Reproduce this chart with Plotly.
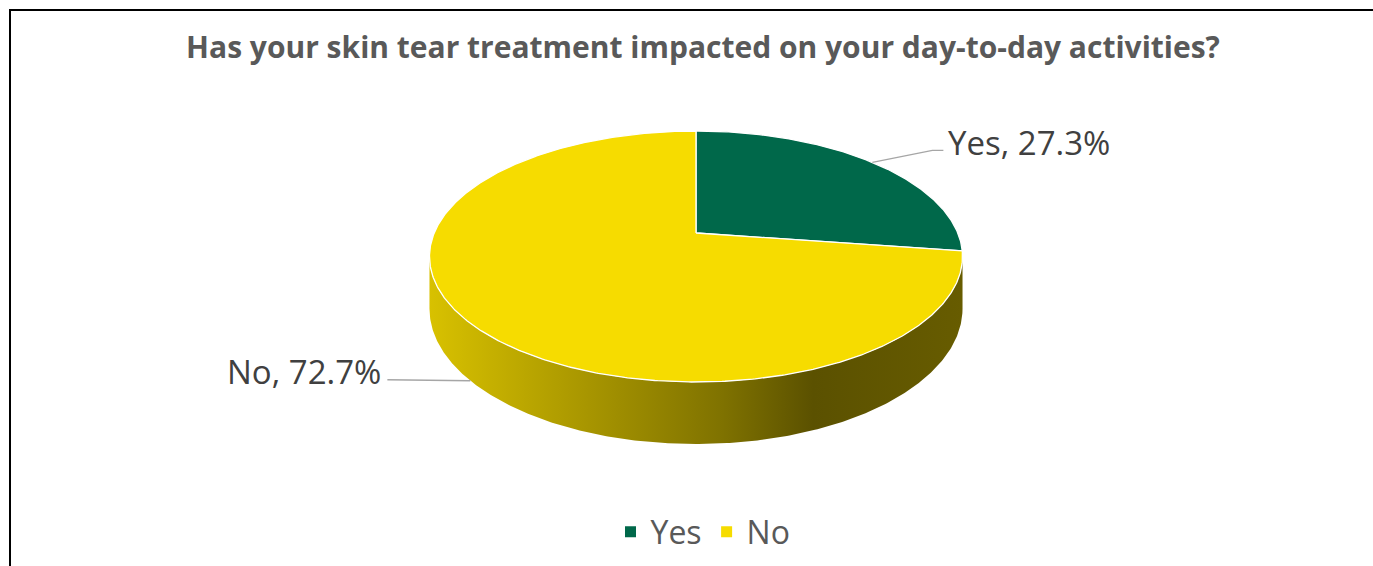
import math
import plotly.graph_objects as go

# ---------------- data ----------------
labels = ["Yes", "No"]
values = [27.3, 72.7]
colors = ["#00684A", "#F6DC00"]
title_text = "Has your skin tear treatment impacted on your day-to-day activities?"

# ---------------- geometry (pixel space of the axes) ----------------
W, H = 1373, 566
CX, CY = 696.0, 233.0      # projected pie centre
S, T = 261.8, 121.1        # horizontal / vertical radius factors
K = 0.1873                 # perspective factor
DEPTH = 50.4               # thickness of the pie
side_profile = [(0.0, 0.88), (0.3, 0.68), (0.55, 0.52), (0.72, 0.37), (1.0, 0.42)]
FONT = "'Open Sans', 'Noto Sans', sans-serif"


def proj(phi_deg, drop=0.0):
    p = math.radians(phi_deg)
    u, v = math.sin(p), math.cos(p)
    w = 1 + K * v
    return CX + S * u / w, CY - T * v / w + drop / w


def arc(a0, a1, drop=0.0, step=0.5):
    n = max(2, int(abs(a1 - a0) / step) + 1)
    pts = [proj(a0 + (a1 - a0) * i / (n - 1), drop) for i in range(n)]
    return [p[0] for p in pts], [p[1] for p in pts]


def hex_rgb(h):
    h = h.lstrip("#")
    return tuple(int(h[i:i + 2], 16) for i in (0, 2, 4))


fig = go.Figure()

total = sum(values)
starts, ends = [], []
acc = 0.0
for v in values:
    starts.append(acc / total * 360)
    acc += v
    ends.append(acc / total * 360)

# visible front side range
phi_r = math.degrees(math.acos(-K))
vis0, vis1 = phi_r, 360 - phi_r
x_left = CX - S / math.sqrt(1 - K * K)
x_right = CX + S / math.sqrt(1 - K * K)

# side walls
for lab, c, a0, a1 in zip(labels, colors, starts, ends):
    b0, b1 = max(a0, vis0), min(a1, vis1)
    if b1 <= b0:
        continue
    tx, ty = arc(b0, b1)
    bx, by = arc(b1, b0, DEPTH)
    r, g, b = hex_rgb(c)
    cs = [[pos, "rgb(%d,%d,%d)" % (int(r * f), int(g * f), int(b * f))] for pos, f in side_profile]
    fig.add_trace(go.Scatter(
        x=tx + bx + [tx[0]], y=ty + by + [ty[0]], mode="lines", fill="toself",
        line=dict(width=0, color="rgba(0,0,0,0)"),
        fillgradient=dict(type="horizontal", colorscale=cs, start=x_left, stop=x_right),
        hoverinfo="skip", showlegend=False))

# top faces
for lab, c, v, a0, a1 in zip(labels, colors, values, starts, ends):
    ax_, ay_ = arc(a0, a1)
    fig.add_trace(go.Scatter(
        x=[CX] + ax_ + [CX], y=[CY] + ay_ + [CY], mode="lines", fill="toself",
        fillcolor=c, line=dict(color="white", width=1.3),
        name=lab, text="%s, %.1f%%" % (lab, v), hoverinfo="text",
        hoveron="fills", showlegend=False))

# leader lines + labels
label_font = dict(family=FONT, size=33, color="#404040")
for i, (lab, v, a0, a1) in enumerate(zip(labels, values, starts, ends)):
    mid = (a0 + a1) / 2
    if math.cos(math.radians(mid)) >= 0:
        x0, y0 = proj(mid)
    else:
        x0, y0 = proj(mid, DEPTH)
    txt = "%s, %.1f%%" % (lab, v)
    if math.sin(math.radians(mid)) >= 0:
        lx = [x0, x0 + 60, x0 + 71]
        ly = [y0, y0 - 12, y0 - 12]
        xa, xanch = lx[-1] + 3, "left"
    else:
        lx = [x0, x0 - 83]
        ly = [y0, y0 - 1]
        xa, xanch = lx[-1] - 4, "right"
    fig.add_trace(go.Scatter(x=lx, y=ly, mode="lines", line=dict(color="#A6A6A6", width=1.3),
                             hoverinfo="skip", showlegend=False))
    fig.add_annotation(x=xa, y=ly[-1] - 8, text=txt, showarrow=False, xanchor=xanch,
                       yanchor="middle", font=label_font)

# legend entries
for lab, c in zip(labels, colors):
    fig.add_trace(go.Scatter(x=[None], y=[None], mode="markers", name=lab,
                             marker=dict(symbol="square", size=11, color=c)))

# chart border
fig.add_shape(type="rect", x0=10, y0=10, x1=W + 20, y1=H + 20,
              line=dict(color="black", width=2), fillcolor="rgba(0,0,0,0)", layer="below")

fig.update_layout(
    width=W, height=H,
    margin=dict(l=0, r=0, t=0, b=0),
    paper_bgcolor="white", plot_bgcolor="white",
    xaxis=dict(range=[0, W], visible=False, fixedrange=True),
    yaxis=dict(range=[H, 0], visible=False, fixedrange=True),
    title=dict(text="<b>%s</b>" % title_text, x=703 / W, xanchor="center",
               y=1 - 47 / H, yanchor="middle",
               font=dict(family=FONT, size=30, color="#595959")),
    legend=dict(orientation="h", x=703 / W, xanchor="center", y=1 - 532 / H, yanchor="middle",
                font=dict(family=FONT, size=32, color="#595959"),
                bgcolor="rgba(0,0,0,0)", itemwidth=30),
    showlegend=True,
)

fig.write_html("out.html", config={"displayModeBar": False},
               post_script="document.body.style.margin='0px';")
